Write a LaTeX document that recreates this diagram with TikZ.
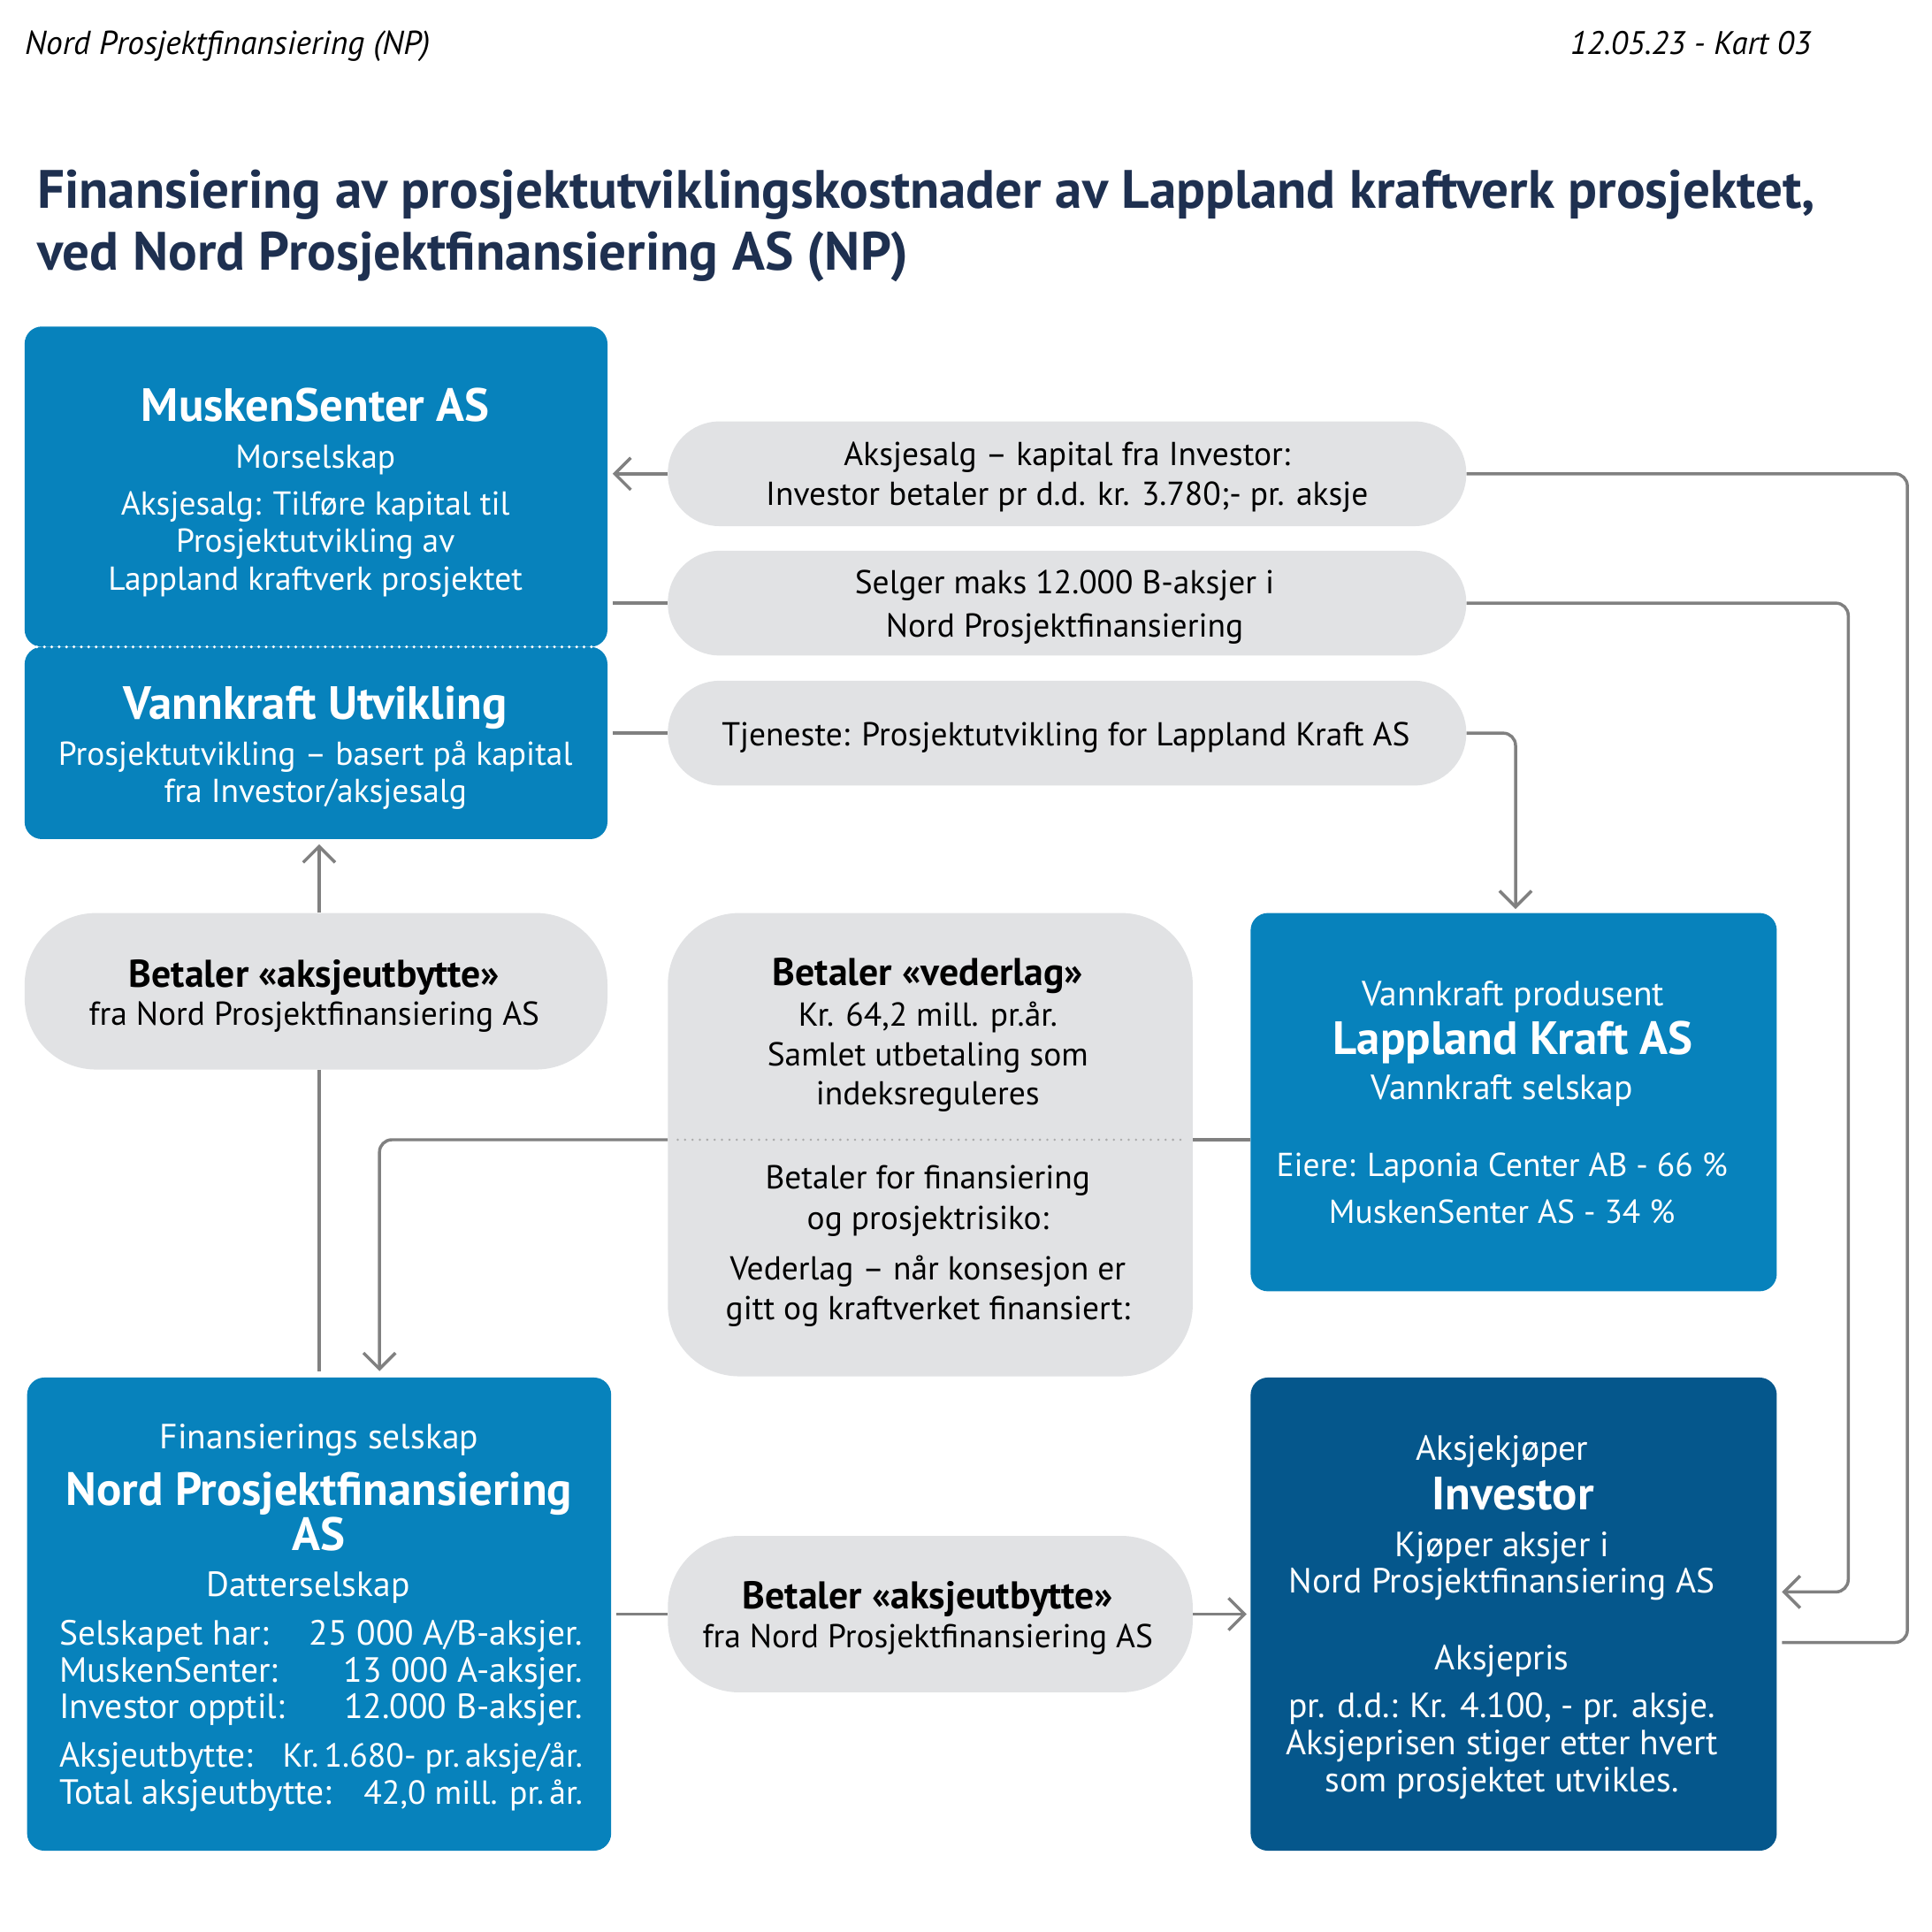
\documentclass[tikz,border=0pt]{standalone}
\usepackage{fontspec}
\setmainfont{PT Sans}
\usetikzlibrary{arrows.meta}
\definecolor{boxblue}{RGB}{7,130,188}
\definecolor{invblue}{RGB}{5,87,140}
\definecolor{pillgrey}{RGB}{225,226,228}
\definecolor{linegrey}{RGB}{128,128,128}
\definecolor{dotgrey}{RGB}{170,170,170}
\definecolor{titlenavy}{RGB}{30,48,80}
\begin{document}
\begin{tikzpicture}[x=1bp,y=-1bp,
  bluebox/.style={fill=boxblue, rounded corners=14bp, inner sep=0pt, draw=none},
  darkbox/.style={fill=invblue, rounded corners=14bp, inner sep=0pt, draw=none},
  pillthin/.style={fill=pillgrey, rounded corners=42bp, inner sep=0pt, draw=none},
  pillfat/.style={fill=pillgrey, rounded corners=58bp, inner sep=0pt, draw=none},
  tw/.style={text=white, anchor=base, inner sep=0pt},
  tk/.style={text=black, anchor=base, inner sep=0pt},
  fbody/.style={font=\fontsize{27}{31}\selectfont},
  fbig/.style={font=\fontsize{28.5}{32}\selectfont},
  fnum/.style={font=\fontsize{27.2}{31}\selectfont},
  fhead/.style={font=\bfseries\fontsize{38}{42}\selectfont},
  fpill/.style={font=\bfseries\fontsize{31.5}{35}\selectfont},
  conn/.style={draw=linegrey, line width=2.5bp, rounded corners=10bp},
  arr/.style={conn, -{Straight Barb[length=13bp,width=26bp]}},
]
\useasboundingbox (0,0) rectangle (1568,1568);

% header
\node[tk, anchor=base west, font=\itshape\fontsize{27}{30}\selectfont] (hdrl) at (20,44) {Nord Prosjektfinansiering (NP)};
\node[tk, anchor=base east, font=\itshape\fontsize{26.5}{30}\selectfont] (hdrr) at (1470,44) {12.05.23 - Kart 03};
\node[tk, anchor=base west, text=titlenavy, font=\bfseries\fontsize{44}{50}\selectfont] (ttl1) at (30,169) {Finansiering av prosjektutviklingskostnader av Lappland kraftverk prosjektet,};
\node[tk, anchor=base west, text=titlenavy, font=\bfseries\fontsize{44}{50}\selectfont] (ttl2) at (30,219) {ved Nord Prosjektfinansiering AS (NP)};

% boxes
\node[bluebox, minimum width=473bp, minimum height=260bp] (musk) at (256.5,395) {};
\node[bluebox, minimum width=473bp, minimum height=156bp] (vutv) at (256.5,603) {};
\draw[white, line width=2.5bp, dash pattern=on 0pt off 6bp, line cap=round] (30,525) -- (484,525);
\node[bluebox, minimum width=427bp, minimum height=307bp] (lapp) at (1228.5,894.5) {};
\node[bluebox, minimum width=474bp, minimum height=384bp] (nord) at (259,1310) {};
\node[darkbox, minimum width=427bp, minimum height=384bp] (inv) at (1228.5,1310) {};

% pills
\node[pillthin, minimum width=648bp, minimum height=85bp] (pa) at (866,384.5) {};
\node[pillthin, minimum width=648bp, minimum height=85bp] (pb) at (866,489.5) {};
\node[pillthin, minimum width=648bp, minimum height=85bp] (pc) at (866,595) {};
\node[pillfat, minimum width=473bp, minimum height=127bp] (pd) at (256.5,804.5) {};
\node[pillfat, minimum width=426bp, minimum height=376bp] (pe) at (755,929) {};
\node[pillfat, minimum width=426bp, minimum height=127bp] (pf) at (755,1310) {};
\draw[dotgrey, line width=2bp, dash pattern=on 0pt off 6bp, line cap=round] (550,925) -- (962,925);

% texts MuskenSenter
\node[tw,fhead] (m1) at (256,342) {MuskenSenter AS};
\node[tw,fbody] (m2) at (256,380) {Morselskap};
\node[tw,fbody] (m3) at (256,418) {Aksjesalg: Tilføre kapital til};
\node[tw,fbody] (m4) at (256,448) {Prosjektutvikling av};
\node[tw,fbody] (m5) at (256,479) {Lappland kraftverk prosjektet};
% Vannkraft Utvikling
\node[tw,fhead] (v1) at (256,584) {Vannkraft Utvikling};
\node[tw,fbody] (v2) at (256,621) {Prosjektutvikling – basert på kapital};
\node[tw,fbody] (v3) at (256,651) {fra Investor/aksjesalg};
% pills text
\node[tk,fbody] (a1) at (866,378) {Aksjesalg – kapital fra Investor:};
\node[tk,fbody] (a2) at (866,410) {Investor betaler pr d.d. kr. 3.780;- pr. aksje};
\node[tk,fbody] (b1) at (864,482) {Selger maks 12.000 B-aksjer i};
\node[tk,fbody] (b2) at (864,517) {Nord Prosjektfinansiering};
\node[tk,fbody] (c1) at (865,605) {Tjeneste: Prosjektutvikling for Lappland Kraft AS};
\node[tk,fpill] (d1) at (255,801) {Betaler «aksjeutbytte»};
\node[tk,fbody] (d2) at (255,832) {fra Nord Prosjektfinansiering AS};
\node[tk,fpill] (e1) at (753,800) {Betaler «vederlag»};
\node[tk,fbody] (e2) at (753,833) {Kr. 64,2 mill. pr.år.};
\node[tk,fbody] (e3) at (753,865) {Samlet utbetaling som};
\node[tk,fbody] (e4) at (753,897) {indeksreguleres};
\node[tk,fbody] (e5) at (753,965) {Betaler for finansiering};
\node[tk,fbody] (e6) at (753,998) {og prosjektrisiko:};
\node[tk,fbody] (e7) at (753,1039) {Vederlag – når konsesjon er};
\node[tk,fbody] (e8) at (753,1071) {gitt og kraftverket finansiert:};
\node[tk,fpill] (f1) at (753,1306) {Betaler «aksjeutbytte»};
\node[tk,fbody] (f2) at (753,1337) {fra Nord Prosjektfinansiering AS};
% Lappland
\node[tw,fbig] (l1) at (1228,816) {Vannkraft produsent};
\node[tw,fhead] (l2) at (1228,856) {Lappland Kraft AS};
\node[tw,fbig] (l3) at (1219,892) {Vannkraft selskap};
\node[tw,fbody] (l4) at (1219,955) {Eiere: Laponia Center AB - 66 \%};
\node[tw,fbody] (l5) at (1219,993) {MuskenSenter AS - 34 \%};
% Nord
\node[tw,fbig] (n1) at (259,1176) {Finansierings selskap};
\node[tw,fhead] (n2) at (259,1222) {Nord Prosjektfinansiering};
\node[tw,fhead] (n3) at (259,1258) {AS};
\node[tw,fbig] (n4) at (250,1296) {Datterselskap};
\node[tw,fbig,anchor=base west] (n5) at (48,1335) {Selskapet har:};
\node[tw,fbig,anchor=base east] (n6) at (473,1335) {25 000 A/B-aksjer.};
\node[tw,fbig,anchor=base west] (n7) at (48,1365) {MuskenSenter:};
\node[tw,fbig,anchor=base east] (n8) at (473,1365) {13 000 A-aksjer.};
\node[tw,fbig,anchor=base west] (n9) at (48,1395) {Investor opptil:};
\node[tw,fbig,anchor=base east] (n10) at (473,1395) {12.000 B-aksjer.};
\node[tw,fbig,anchor=base west] (n11) at (48,1434) {Aksjeutbytte:};
\node[tw,fnum,anchor=base east] (n12) at (473,1434) {Kr.\,1.680- pr.\,aksje/år.};
\node[tw,fbig,anchor=base west] (n13) at (48,1464) {Total aksjeutbytte:};
\node[tw,fnum,anchor=base east] (n14) at (473,1464) {42,0 mill. pr.\,år.};
% Investor
\node[tw,fbig] (i1) at (1219,1185) {Aksjekjøper};
\node[tw,fhead] (i2) at (1228,1225) {Investor};
\node[tw,fbig] (i3) at (1219,1263) {Kjøper aksjer i};
\node[tw,fbig] (i4) at (1219,1293) {Nord Prosjektfinansiering AS};
\node[tw,fbig] (i5) at (1219,1355) {Aksjepris};
\node[tw,fbig] (i6) at (1219,1394) {pr. d.d.: Kr. 4.100, - pr. aksje.};
\node[tw,fbig] (i7) at (1219,1424) {Aksjeprisen stiger etter hvert};
\node[tw,fbig] (i8) at (1219,1454) {som prosjektet utvikles.};

% connectors
\coordinate (railA) at (1548,384.5);
\coordinate (railB) at (1500,489.5);
\coordinate (railC) at (1230,595);
\coordinate (yInvA) at (0,1333);
\coordinate (yInvB) at (0,1292);
\coordinate (yVed) at (0,925);
\coordinate (xVed) at (308,0);
\coordinate (xLeft) at (259,0);

\draw[arr, shorten >=4bp] (pa.west) -- (pa.west -| musk.east);
\draw[conn, shorten <=4bp] (inv.east |- yInvA) -| (railA) -- (pa.east);
\draw[conn, shorten <=4bp] (musk.east |- pb.west) -- (pb.west);
\draw[arr, shorten >=4bp] (pb.east) -| (railB |- yInvB) -- (inv.east |- yInvB);
\draw[conn, shorten <=4bp] (vutv.east |- pc.west) -- (pc.west);
\draw[arr, shorten >=3bp] (pc.east) -| (railC |- lapp.north);
\draw[arr, shorten >=4bp] (xLeft |- pd.north) -- (xLeft |- vutv.south);
\draw[conn, shorten >=5bp] (xLeft |- pd.south) -- (xLeft |- nord.north);
\draw[conn] (lapp.west |- yVed) -- (pe.east |- yVed);
\draw[arr, shorten >=5bp] (pe.west |- yVed) -| (xVed |- nord.north);
\draw[conn, shorten <=4bp] (nord.east) -- (pf.west);
\draw[arr, shorten >=3bp] (pf.east) -- (inv.west);
\end{tikzpicture}
\end{document}
